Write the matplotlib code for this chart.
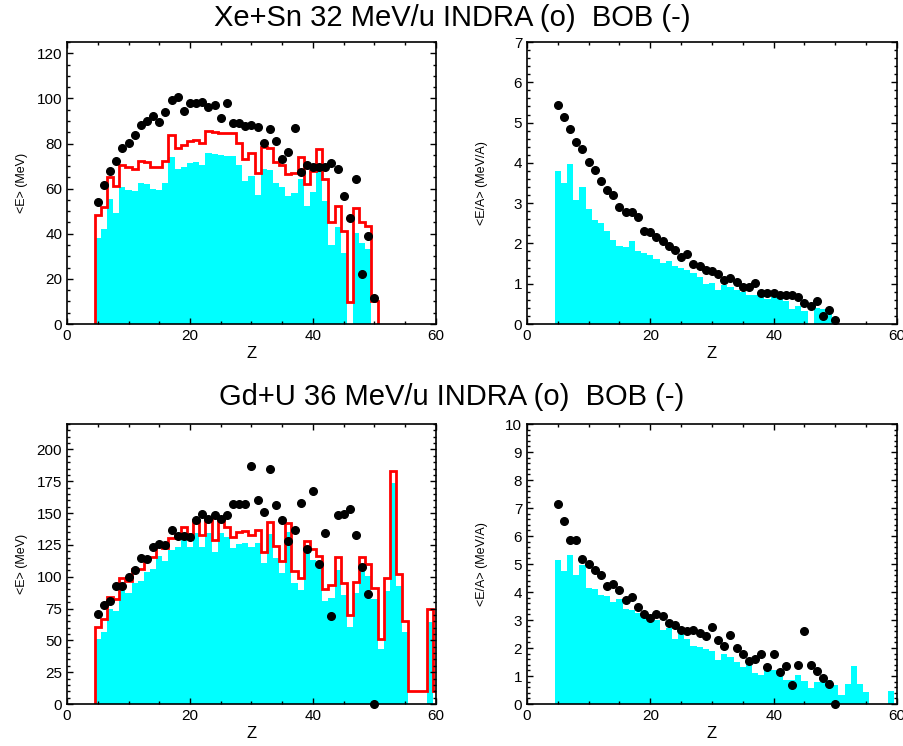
import numpy as np
import matplotlib.pyplot as plt
from matplotlib.ticker import MultipleLocator

plt.rcParams['font.family'] = ['Liberation Sans', 'DejaVu Sans']

# ---- Xe+Sn 32 MeV/u ----
z_xe = np.arange(5, 51)
e_indra_xe = [54.2, 61.7, 67.8, 72.1, 78.0, 80.1, 83.9, 88.2, 89.8, 92.3,
              89.7, 94.0, 99.1, 100.6, 94.6, 97.8, 97.8, 98.3, 96.0, 96.9,
              91.2, 98.1, 89.1, 89.2, 87.9, 88.0, 87.3, 80.1, 86.3, 80.9,
              73.1, 76.1, 86.7, 67.5, 70.7, 69.7, 69.5, 69.5, 71.3, 68.5,
              56.7, 47.1, 64.1, 22.2, 39.1, 11.5]
e_bob_red_xe = [48.1, 51.8, 65.3, 61.0, 70.7, 69.7, 68.5, 72.1, 71.8, 69.8,
                69.4, 72.2, 83.8, 78.1, 79.2, 80.9, 81.5, 80.2, 85.7, 85.2,
                84.6, 84.5, 84.5, 80.1, 73.0, 75.6, 67.0, 78.4, 78.0, 71.8,
                70.3, 66.3, 67.0, 74.0, 61.9, 67.8, 77.4, 64.2, 45.0, 52.2,
                41.1, 9.8, 51.2, 45.4, 43.5, 10.1]
e_bob_cyan_xe = [38.2, 41.9, 55.2, 49.3, 60.8, 59.6, 58.9, 62.3, 61.9, 59.9,
                 59.6, 62.3, 74.1, 68.5, 69.7, 71.2, 71.8, 70.4, 75.6, 75.3,
                 74.9, 74.6, 74.4, 70.7, 63.3, 65.8, 57.4, 68.8, 68.2, 62.3,
                 60.8, 56.7, 57.9, 64.4, 52.2, 58.4, 67.8, 54.5, 35.2, 42.9,
                 31.5, 0.0, 40.4, 36.0, 33.4, 0.0]
ea_indra_xe = [5.43, 5.15, 4.85, 4.51, 4.34, 4.02, 3.83, 3.54, 3.33, 3.20,
               2.90, 2.77, 2.77, 2.65, 2.31, 2.28, 2.17, 2.06, 1.93, 1.83,
               1.66, 1.73, 1.49, 1.44, 1.35, 1.31, 1.25, 1.10, 1.15, 1.04,
               0.91, 0.91, 1.01, 0.77, 0.78, 0.76, 0.73, 0.71, 0.71, 0.66,
               0.53, 0.44, 0.57, 0.19, 0.34, 0.09]
ea_bob_xe = [3.80, 3.49, 3.96, 3.07, 3.39, 2.85, 2.57, 2.51, 2.31, 2.08,
             1.93, 1.90, 2.07, 1.82, 1.77, 1.72, 1.61, 1.52, 1.57, 1.45,
             1.39, 1.35, 1.27, 1.17, 1.00, 1.01, 0.84, 0.98, 0.92, 0.84,
             0.79, 0.72, 0.72, 0.69, 0.61, 0.67, 0.66, 0.56, 0.37, 0.44,
             0.32, 0.0, 0.40, 0.36, 0.29, 0.0]

# ---- Gd+U 36 MeV/u ----
z_gd_dots = np.arange(5, 51)
z_gd_bob = np.arange(5, 61)
e_indra_gd = [70.8, 77.8, 81.2, 92.4, 92.9, 100.0, 105.2, 114.4, 113.6, 123.5,
              126.1, 124.8, 137.1, 132.1, 131.9, 131.3, 144.4, 149.1, 145.2, 148.3,
              145.7, 148.8, 157.4, 156.9, 157.4, 186.7, 160.3, 150.9, 184.6, 156.1,
              144.4, 127.9, 137.1, 157.7, 121.4, 167.1, 110.2, 134.2, 69.2, 148.6,
              149.6, 153.5, 132.6, 107.3, 86.7, 0.0]
e_bob_red_gd = [60.8, 66.8, 84.3, 82.5, 98.7, 96.9, 105.7, 106.3, 115.7, 115.7,
                124.0, 122.2, 130.8, 133.9, 139.2, 133.9, 144.4, 132.4, 146.5, 129.0,
                145.2, 139.2, 131.3, 135.0, 136.0, 132.4, 136.6, 119.6, 143.1, 124.5,
                112.5, 142.3, 104.7, 99.2, 128.2, 121.4, 116.2, 90.3, 93.5, 115.7,
                95.3, 70.2, 96.1, 115.7, 110.2, 91.4, 51.4, 98.7, 182.8, 102.1,
                65.5, 9.9, 9.9, 9.9, 74.4, 9.9]
e_bob_cyan_gd = [50.9, 56.9, 74.4, 72.8, 89.3, 87.2, 95.3, 96.6, 103.9, 105.7,
                 116.2, 112.5, 120.9, 123.5, 128.7, 123.5, 134.5, 123.0, 134.5, 119.6,
                 134.5, 131.3, 122.2, 125.6, 126.6, 123.5, 126.6, 110.4, 133.4, 115.1,
                 103.1, 135.2, 94.8, 89.6, 118.8, 113.1, 106.8, 80.9, 83.6, 105.2,
                 85.6, 60.8, 86.9, 106.5, 100.8, 82.2, 43.1, 89.0, 173.6, 93.0,
                 56.4, 0.0, 0.0, 0.0, 64.8, 0.0]
ea_indra_gd = [7.13, 6.53, 5.84, 5.84, 5.18, 5.01, 4.78, 4.59, 4.23, 4.29,
               4.07, 3.70, 3.82, 3.48, 3.23, 3.06, 3.22, 3.13, 2.89, 2.81,
               2.64, 2.62, 2.64, 2.53, 2.43, 2.75, 2.29, 2.07, 2.45, 2.00,
               1.78, 1.55, 1.59, 1.78, 1.32, 1.78, 1.14, 1.36, 0.68, 1.41,
               2.60, 1.41, 1.18, 0.92, 0.73, 0.0]
ea_bob_gd = [5.14, 4.74, 5.33, 4.59, 4.95, 4.16, 4.10, 3.89, 3.85, 3.65,
             3.76, 3.40, 3.36, 3.24, 3.13, 3.03, 3.01, 2.64, 2.72, 2.32,
             2.50, 2.32, 2.07, 2.05, 1.96, 1.88, 1.56, 1.80, 1.68, 1.50,
             1.33, 1.45, 1.12, 1.05, 1.25, 1.22, 1.22, 0.84, 0.84, 1.03,
             0.81, 0.57, 0.77, 0.77, 0.87, 0.68, 0.33, 0.73, 1.37, 0.73,
             0.43, 0.0, 0.0, 0.0, 0.45, 0.0]

fig = plt.figure(figsize=(9.04, 7.46), dpi=100)

W, H = 904, 746
def add_ax(l, r, t, b):
    return fig.add_axes([l / W, 1 - b / H, (r - l) / W, (b - t) / H])

ax1 = add_ax(67, 436, 42, 324)
ax2 = add_ax(527, 897, 42, 324)
ax3 = add_ax(67, 436, 424, 704)
ax4 = add_ax(527, 897, 424, 704)

cyan = '#00ffff'

def style(ax, ymax, ymaj, ymin, ylab):
    ax.set_xlim(0, 60)
    ax.set_ylim(0, ymax)
    ax.xaxis.set_major_locator(MultipleLocator(20))
    ax.xaxis.set_minor_locator(MultipleLocator(5))
    ax.yaxis.set_major_locator(MultipleLocator(ymaj))
    ax.yaxis.set_minor_locator(MultipleLocator(ymin))
    ax.tick_params(which='both', direction='in', top=True, right=True,
                   labelsize=11, width=1)
    ax.tick_params(which='major', length=4)
    ax.tick_params(which='minor', length=2)
    for s in ax.spines.values():
        s.set_linewidth(1.2)
    ax.set_xlabel('Z', fontsize=12)
    ax.xaxis.set_label_coords(0.5, -0.078)
    ax.set_ylabel(ylab, fontsize=9)
    ax.yaxis.set_label_coords(-0.106, 0.5)

def edges(z):
    return np.append(np.asarray(z) - 0.5, z[-1] + 0.5)

# top left
ax1.bar(z_xe, e_bob_cyan_xe, width=1.0, color=cyan, linewidth=0)
ax1.stairs(e_bob_red_xe, edges(z_xe), baseline=0, color='red', lw=2)
ax1.plot(z_xe, e_indra_xe, 'o', color='black', ms=5.5)
style(ax1, 125, 20, 5, '<E> (MeV)')

# top right
ax2.bar(z_xe, ea_bob_xe, width=1.0, color=cyan, linewidth=0)
ax2.plot(z_xe, ea_indra_xe, 'o', color='black', ms=5.5)
style(ax2, 7, 1, 0.2, '<E/A> (MeV/A)')

# bottom left
ax3.bar(z_gd_bob, e_bob_cyan_gd, width=1.0, color=cyan, linewidth=0)
ax3.stairs(e_bob_red_gd, edges(z_gd_bob), baseline=0, color='red', lw=2)
ax3.plot(z_gd_dots, e_indra_gd, 'o', color='black', ms=5.5, clip_on=False)
style(ax3, 220, 25, 5, '<E> (MeV)')

# bottom right
ax4.bar(z_gd_bob, ea_bob_gd, width=1.0, color=cyan, linewidth=0)
ax4.plot(z_gd_dots, ea_indra_gd, 'o', color='black', ms=5.5, clip_on=False)
style(ax4, 10, 1, 0.2, '<E/A> (MeV/A)')

fig.text(0.5, 1 - 18 / H, 'Xe+Sn 32 MeV/u INDRA (o)  BOB (-)',
         ha='center', va='center', fontsize=21)
fig.text(0.5, 1 - 397 / H, 'Gd+U 36 MeV/u INDRA (o)  BOB (-)',
         ha='center', va='center', fontsize=21)

fig.savefig('out.png', dpi=100)
